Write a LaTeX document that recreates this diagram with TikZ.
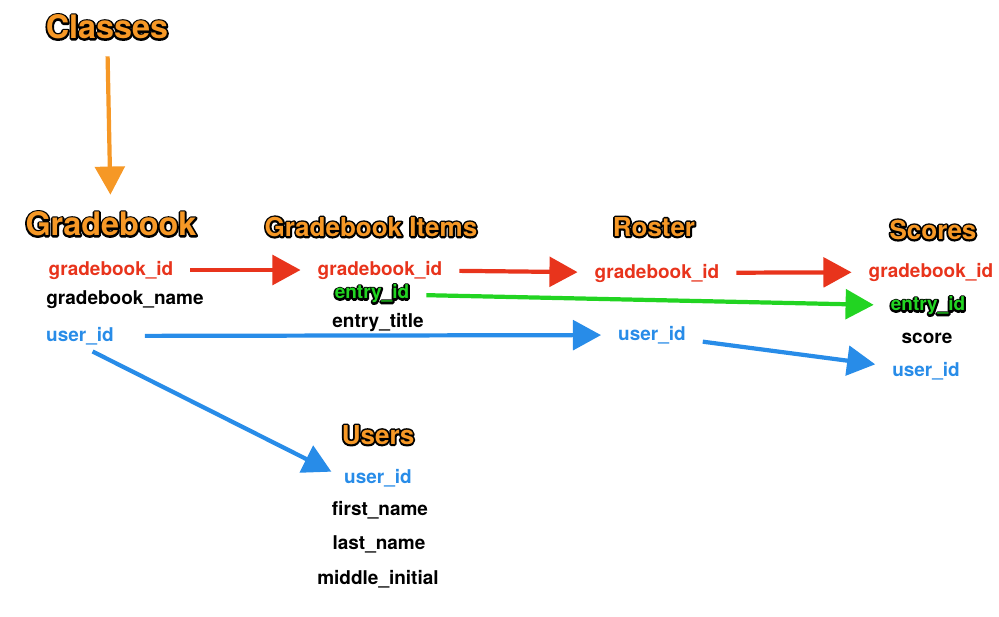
\documentclass[tikz,border=0pt]{standalone}
\usepackage{fontspec}
\setmainfont{TeX Gyre Heros}
\usetikzlibrary{arrows.meta,positioning}

\definecolor{ttlorange}{RGB}{246,152,38}
\definecolor{keyred}{RGB}{232,52,28}
\definecolor{keygreen}{RGB}{34,212,34}
\definecolor{keyblue}{RGB}{40,140,232}

% black stroked copy under the filled text
\newcommand{\outlined}[1]{\leavevmode\rlap{\special{pdf:literal direct 1 Tr 2.6 w 0 G 1 j}#1\special{pdf:literal direct 0 Tr}}#1}

\tikzset{
  bigtitle/.style={inner sep=0pt, text=ttlorange, font=\bfseries\fontsize{23}{26}\selectfont},
  tabletitle/.style={inner sep=0pt, text=ttlorange, font=\bfseries\fontsize{18.5}{21}\selectfont},
  field/.style={inner sep=0pt, font=\bfseries\fontsize{13.5}{16}\selectfont},
  redkey/.style={field, text=keyred},
  bluekey/.style={field, text=keyblue},
  greenkey/.style={field, text=keygreen},
  link/.style={line width=3pt, -{Triangle[length=20pt,width=21pt]}, shorten <=12pt, shorten >=12pt},
}

\begin{document}
\begin{tikzpicture}[x=0.025cm,y=-0.025cm]
  \useasboundingbox (0,0) rectangle (999,617);

  % table titles
  \node[bigtitle] (classes) at (107,27) {\outlined{Classes}};
  \node[bigtitle] (gradebook) at (111,224) {\outlined{Gradebook}};
  \node[tabletitle] (items) at (371,227) {\outlined{Gradebook Items}};
  \node[tabletitle] (roster) at (654,227) {\outlined{Roster}};
  \node[tabletitle] (scores) at (933,230) {\outlined{Scores}};
  \node[tabletitle] (users) at (378,435) {\outlined{Users}};

  % Gradebook
  \node[redkey] (gb-gid) at (111,270) {gradebook\_id};
  \node[field] (gb-name) at (125,300) {gradebook\_name};
  \node[bluekey] (gb-uid) at (80,336) {user\_id};

  % Gradebook Items
  \node[redkey] (gi-gid) at (380,270) {gradebook\_id};
  \node[greenkey] (gi-eid) at (372,294) {\outlined{entry\_id}};
  \node[field] (gi-title) at (378,323) {entry\_title};

  % Roster
  \node[redkey] (ro-gid) at (657,273) {gradebook\_id};
  \node[bluekey] (ro-uid) at (652,335) {user\_id};

  % Scores
  \node[redkey] (sc-gid) at (931,272) {gradebook\_id};
  \node[greenkey] (sc-eid) at (928,306) {\outlined{entry\_id}};
  \node[field] (sc-score) at (927,338) {score};
  \node[bluekey] (sc-uid) at (926,371) {user\_id};

  % Users
  \node[bluekey] (us-uid) at (378,478) {user\_id};
  \node[field] (us-first) at (380,510) {first\_name};
  \node[field] (us-last) at (379,544) {last\_name};
  \node[field] (us-mid) at (378,579) {middle\_initial};

  % links
  \draw[link, ttlorange] (classes) -- (gradebook);
  \draw[link, keyred] (gb-gid) -- (gi-gid);
  \draw[link, keyred] (gi-gid) -- (ro-gid);
  \draw[link, keyred] (ro-gid) -- (sc-gid);
  \draw[link, keygreen] (gi-eid) -- (sc-eid);
  \draw[link, keyblue, shorten <=22pt] (gb-uid) -- (ro-uid);
  \draw[link, keyblue] (ro-uid) -- (sc-uid);
  \draw[link, keyblue, shorten <=10pt, shorten >=10pt] (gb-uid.south) -- (us-uid.west);
\end{tikzpicture}
\end{document}
